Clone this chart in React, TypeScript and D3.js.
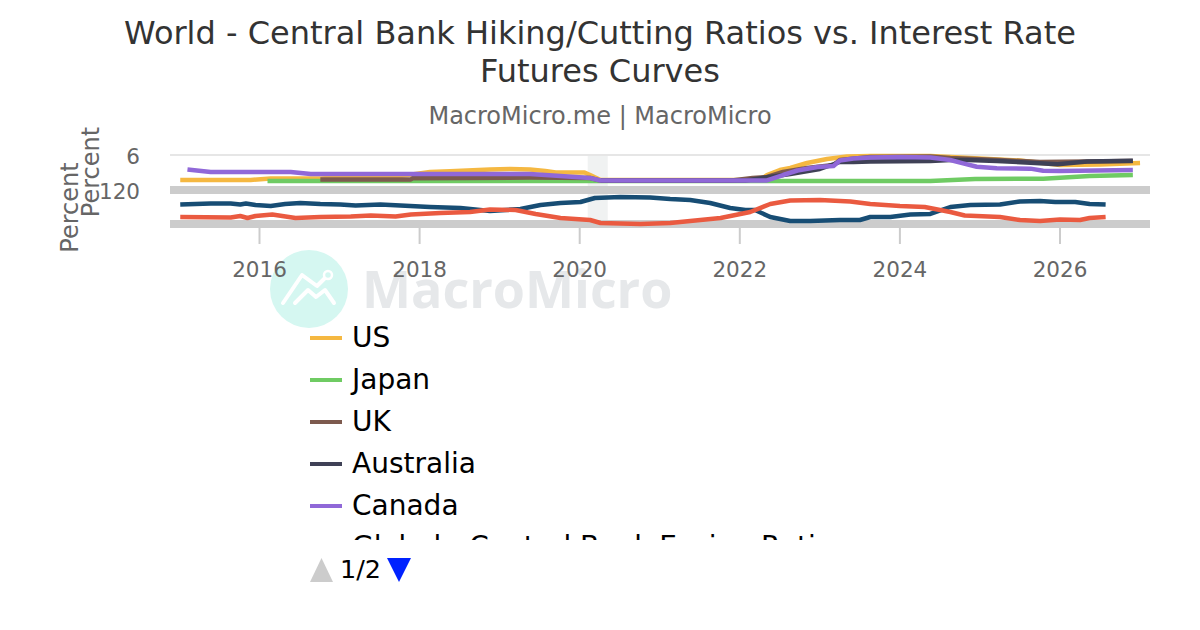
import React from 'react';
import * as d3 from 'd3';

const title = ['World - Central Bank Hiking/Cutting Ratios vs. Interest Rate', 'Futures Curves'];
const subtitle = 'MacroMicro.me | MacroMicro';

// [decimal year, percent]
const usData = [[2015.01,1.72],[2015.89,1.72],[2016.14,1.97],[2016.76,1.97],[2017.14,2.23],[2017.70,2.32],[2017.95,2.74],[2018.13,3.09],[2018.38,3.20],[2018.88,3.52],[2019.13,3.60],[2019.38,3.52],[2019.57,3.26],[2019.70,3.00],[2020.06,3.00],[2020.13,2.57],[2020.26,1.72],[2022.26,1.72],[2022.34,2.57],[2022.50,3.43],[2022.63,3.77],[2022.84,4.63],[2023.09,5.32],[2023.34,5.75],[2023.63,5.83],[2024.38,5.83],[2024.63,5.66],[2025.50,5.06],[2026.00,4.29],[2026.50,4.37],[2027.00,4.63]];
const japanData = [[2016.10,1.54],[2020.26,1.54],[2022.50,1.54],[2024.38,1.54],[2024.94,1.89],[2025.79,1.94],[2026.37,2.40],[2026.91,2.57]];
const ukData = [[2016.76,1.80],[2017.89,1.80],[2017.91,2.00],[2018.63,2.06],[2019.38,2.14],[2020.13,2.06],[2020.26,1.60],[2021.90,1.63],[2022.16,2.06],[2022.34,2.23],[2022.54,3.09],[2022.84,3.77],[2023.17,4.29],[2023.25,5.15],[2023.63,5.66],[2024.38,5.75],[2024.63,5.49],[2025.25,5.15],[2025.75,4.80],[2026.91,4.97]];
const australiaData = [[2020.26,1.63],[2022.07,1.63],[2022.63,2.74],[2023.00,3.60],[2023.25,4.80],[2023.42,4.80],[2023.63,4.89],[2024.38,4.97],[2024.63,5.15],[2024.85,5.15],[2025.21,4.97],[2025.63,4.69],[2025.97,4.42],[2026.34,4.87],[2026.91,5.03]];
const canadaData = [[2015.10,3.52],[2015.39,3.09],[2016.39,3.09],[2016.64,2.74],[2019.38,2.74],[2019.76,2.40],[2020.13,2.06],[2020.26,1.63],[2022.34,1.63],[2022.54,2.57],[2022.72,3.34],[2022.97,3.95],[2023.17,4.12],[2023.25,5.06],[2023.42,5.40],[2023.63,5.57],[2024.00,5.66],[2024.38,5.57],[2024.63,5.15],[2024.79,4.57],[2024.96,3.99],[2025.21,3.72],[2025.63,3.66],[2025.79,3.31],[2026.00,3.26],[2026.91,3.43]];
const easingData = [[2015.01,6.88],[2015.39,7.24],[2015.64,7.24],[2015.76,6.88],[2015.83,7.24],[2015.95,6.71],[2016.14,6.35],[2016.32,7.06],[2016.51,7.41],[2016.76,7.06],[2017.01,6.88],[2017.20,6.53],[2017.51,6.88],[2017.76,6.53],[2018.13,6.00],[2018.51,5.65],[2018.88,4.59],[2019.26,5.29],[2019.51,6.71],[2019.76,7.41],[2020.01,7.77],[2020.19,9.18],[2020.51,9.53],[2020.88,9.35],[2021.13,8.82],[2021.38,8.47],[2021.63,7.41],[2021.88,5.65],[2022.07,4.94],[2022.19,4.94],[2022.38,2.47],[2022.63,1.06],[2022.88,1.06],[2023.25,1.41],[2023.50,1.41],[2023.63,2.47],[2023.88,2.47],[2024.13,3.35],[2024.38,3.53],[2024.63,6.00],[2024.88,6.71],[2025.25,6.88],[2025.50,7.94],[2025.75,8.12],[2025.94,7.77],[2026.19,7.77],[2026.37,7.06],[2026.57,6.88]];
const hikingData = [[2015.01,2.47],[2015.64,2.29],[2015.76,2.82],[2015.85,2.12],[2015.95,2.82],[2016.16,3.35],[2016.45,2.12],[2016.76,2.47],[2017.14,2.65],[2017.39,3.00],[2017.70,2.65],[2017.89,3.35],[2018.26,3.88],[2018.63,4.24],[2018.88,5.12],[2019.20,4.94],[2019.45,3.53],[2019.76,2.12],[2020.13,1.41],[2020.26,0.35],[2020.76,0],[2021.13,0.35],[2021.38,1.06],[2021.76,2.12],[2022.13,4.24],[2022.38,7.06],[2022.63,8.30],[2023.00,8.47],[2023.38,7.94],[2023.63,7.06],[2024.00,6.35],[2024.31,6.00],[2024.63,4.24],[2024.81,3.00],[2025.25,2.47],[2025.50,1.41],[2025.75,1.06],[2026.00,1.59],[2026.25,1.41],[2026.37,2.12],[2026.57,2.47]];

const seriesNames = ['US', 'Japan', 'UK', 'Australia', 'Canada'];
const seriesColors = ['#f5b841', '#6fcb63', '#7d5a4e', '#3f4156', '#9068d8'];
const upperSeries = [usData, japanData, ukData, australiaData, canadaData];
const clippedLegend = 'Global - Central Bank Easing Ratio';

const xTicks = [2016, 2018, 2020, 2022, 2024, 2026];
const recessionBand = [2020.1, 2020.35];

const x = d3.scaleLinear().domain([2016, 2026]).range([259.5, 1060]);
const yUpper = d3.scaleLinear().domain([0, 6]).range([190, 155]);
const yLower = d3.scaleLinear().domain([0, 12]).range([224, 190]);

const font = '"DejaVu Sans", sans-serif';

function linePath(y: d3.ScaleLinear<number, number>, data: number[][]) {
  const line = d3.line<number[]>().x(d => x(d[0])).y(d => y(d[1]));
  return line(data) || '';
}

export default function App() {
  return (
    <svg width={1200} height={630} style={{ position: 'absolute', left: 0, top: 0 }} fontFamily={font}>
      <defs>
        <clipPath id="legend-clip"><rect x={300} y={320} width={560} height={220} /></clipPath>
      </defs>
      <rect width={1200} height={630} fill="#fff" />

      {/* watermark */}
      <circle cx={309} cy={289} r={39} fill="#d5f7f1" />
      <path d="M283 303 L302 275 L317 286 L325 278 M295 303 L308 290 L316 297 L325 290 L334 303" fill="none" stroke="#fff" strokeWidth={4} strokeLinejoin="round" strokeLinecap="round" />
      <circle cx={328} cy={275} r={4} fill="#d5f7f1" stroke="#fff" strokeWidth={2.5} />
      <text x={362} y={308} fontSize={52} fontWeight="bold" fill="#e6e8ea" fontFamily={'"Open Sans", sans-serif'}>MacroMicro</text>

      {title.map((t, i) => (
        <text key={t} x={600} y={44 + i * 38} textAnchor="middle" fontSize={32} fill="#333">{t}</text>
      ))}
      <text x={600} y={124} textAnchor="middle" fontSize={24} fill="#666">{subtitle}</text>

      <rect x={x(recessionBand[0])} width={x(recessionBand[1]) - x(recessionBand[0])} y={156} height={64} fill="#f0f2f2" />
      <line x1={170} x2={1150} y1={yUpper(6)} y2={yUpper(6)} stroke="#e6e6e6" strokeWidth={2} />
      <line x1={170} x2={1150} y1={yUpper(0)} y2={yUpper(0)} stroke="#ccc" strokeWidth={8} />
      <line x1={170} x2={1150} y1={yLower(0)} y2={yLower(0)} stroke="#ccc" strokeWidth={8} />

      {xTicks.map(t => (
        <g key={t}>
          <line x1={x(t)} x2={x(t)} y1={228} y2={244} stroke="#ccc" strokeWidth={2} />
          <text x={x(t)} y={276.5} textAnchor="middle" fontSize={21.5} fill="#666">{t}</text>
        </g>
      ))}

      <text x={140} y={164} textAnchor="end" fontSize={21.5} fill="#666">6</text>
      <text x={140} y={199} textAnchor="end" fontSize={21.5} fill="#666">120</text>
      <text transform="translate(78,207.5) rotate(-90)" textAnchor="middle" fontSize={24} fill="#666">Percent</text>
      <text transform="translate(99,172) rotate(-90)" textAnchor="middle" fontSize={24} fill="#666">Percent</text>

      {upperSeries.map((data, i) => (
        <path key={seriesNames[i]} d={linePath(yUpper, data)} fill="none" stroke={seriesColors[i]} strokeWidth={4.5} strokeLinejoin="round" />
      ))}
      <path d={linePath(yLower, easingData)} fill="none" stroke="#174d74" strokeWidth={4.5} strokeLinejoin="round" />
      <path d={linePath(yLower, hikingData)} fill="none" stroke="#ea5a40" strokeWidth={4.5} strokeLinejoin="round" />

      <g clipPath="url(#legend-clip)">
        {seriesNames.map((name, i) => (
          <g key={name}>
            <line x1={310} x2={342} y1={338 + i * 42} y2={338 + i * 42} stroke={seriesColors[i]} strokeWidth={4} />
            <text x={352} y={347 + i * 42} fontSize={28} fill="#000">{name}</text>
          </g>
        ))}
        <text x={352} y={556} fontSize={28} fill="#000">{clippedLegend}</text>
      </g>

      <path d="M310 582 L333 582 L321.5 558 Z" fill="#ccc" />
      <text x={340} y={578} fontSize={25.5} fill="#000">1/2</text>
      <path d="M387 558 L411 558 L399 582 Z" fill="#0022ff" />
    </svg>
  );
}
